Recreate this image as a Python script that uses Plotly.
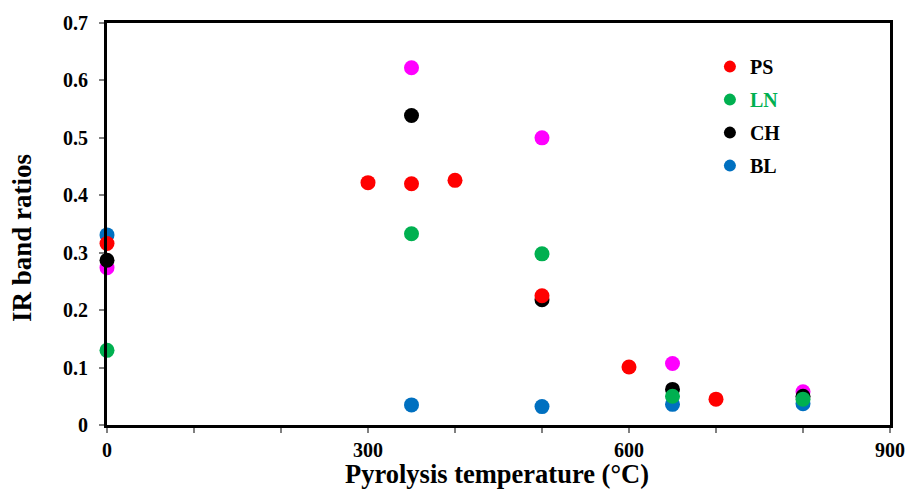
import plotly.graph_objects as go

# Data
ps_x = [0, 300, 350, 400, 500, 600, 700]
ps_y = [0.316, 0.422, 0.420, 0.426, 0.225, 0.101, 0.045]
ln_x = [0, 350, 500, 650, 800]
ln_y = [0.130, 0.333, 0.298, 0.050, 0.045]
ch_x = [0, 350, 500, 650, 800]
ch_y = [0.287, 0.539, 0.218, 0.062, 0.050]
bl_x = [0, 350, 500, 650, 800]
bl_y = [0.331, 0.035, 0.032, 0.036, 0.037]
mg_x = [0, 350, 500, 650, 800]
mg_y = [0.274, 0.622, 0.500, 0.107, 0.058]

x_ticks = [0, 300, 600, 900]
y_ticks = [0, 0.1, 0.2, 0.3, 0.4, 0.5, 0.6, 0.7]
x_title = "Pyrolysis temperature (°C)"
y_title = "IR band ratios"

FONT = "Liberation Serif, Times New Roman, serif"
MS = 15

fig = go.Figure()
fig.add_trace(go.Scatter(x=mg_x, y=mg_y, mode="markers", showlegend=False,
                         marker=dict(color="#FF00FF", size=MS)))
fig.add_trace(go.Scatter(x=bl_x, y=bl_y, mode="markers", name="BL", legendrank=4, legendgroup="d",
                         marker=dict(color="#0070C0", size=MS)))
fig.add_trace(go.Scatter(x=ch_x, y=ch_y, mode="markers", name="CH", legendrank=3, legendgroup="c",
                         marker=dict(color="#000000", size=MS)))
fig.add_trace(go.Scatter(x=ps_x, y=ps_y, mode="markers", name="PS", legendrank=1, legendgroup="a",
                         marker=dict(color="#FF0000", size=MS)))
fig.add_trace(go.Scatter(x=ln_x, y=ln_y, mode="markers",
                         name='<span style="color:#00B050">LN</span>', legendrank=2, legendgroup="b",
                         marker=dict(color="#00B050", size=MS)))

fig.update_layout(
    width=908, height=489,
    margin=dict(l=107, r=18, t=23, b=64),
    paper_bgcolor="white", plot_bgcolor="white",
    font=dict(family=FONT, size=20, color="black"),
    legend=dict(x=0.77, y=0.94, xanchor="left", yanchor="top",
                font=dict(family=FONT, size=20, color="black", weight="bold"),
                itemsizing="constant", traceorder="grouped", tracegroupgap=4,
                itemwidth=30,
                bgcolor="rgba(0,0,0,0)"),
    xaxis=dict(range=[0, 900], tickvals=x_ticks, ticks="outside", ticklen=5, tickwidth=2,
               tickcolor="#808080", showgrid=False, zeroline=False, automargin=False,
               showline=True, linecolor="black", linewidth=3, mirror=True,
               minor=dict(dtick=100, ticks="outside", ticklen=5, tickwidth=2, tickcolor="#808080"),
               tickfont=dict(family=FONT, size=20, weight="bold")),
    yaxis=dict(range=[0, 0.7], tickvals=y_ticks, ticktext=["0", "0.1", "0.2", "0.3", "0.4", "0.5", "0.6", "0.7"],
               ticks="outside", ticklen=5, tickwidth=2, ticklabelstandoff=7,
               tickcolor="#808080", showgrid=False, zeroline=False, automargin=False,
               showline=True, linecolor="black", linewidth=3, mirror=True,
               tickfont=dict(family=FONT, size=20, weight="bold")),
    annotations=[
        dict(text=x_title, xref="paper", yref="paper", x=0.498, y=-0.121,
             xanchor="center", yanchor="middle", showarrow=False,
             font=dict(family=FONT, size=26.5, weight="bold", color="black")),
        dict(text=y_title, xref="paper", yref="paper", x=-0.1086, y=0.465,
             xanchor="center", yanchor="middle", showarrow=False, textangle=-90,
             font=dict(family=FONT, size=27, weight="bold", color="black")),
    ],
)
for t in fig.data:
    t.cliponaxis = False

fig.write_html("out.html", config={"displayModeBar": False},
               post_script="document.body.style.margin='0';document.body.style.overflow='hidden';")
